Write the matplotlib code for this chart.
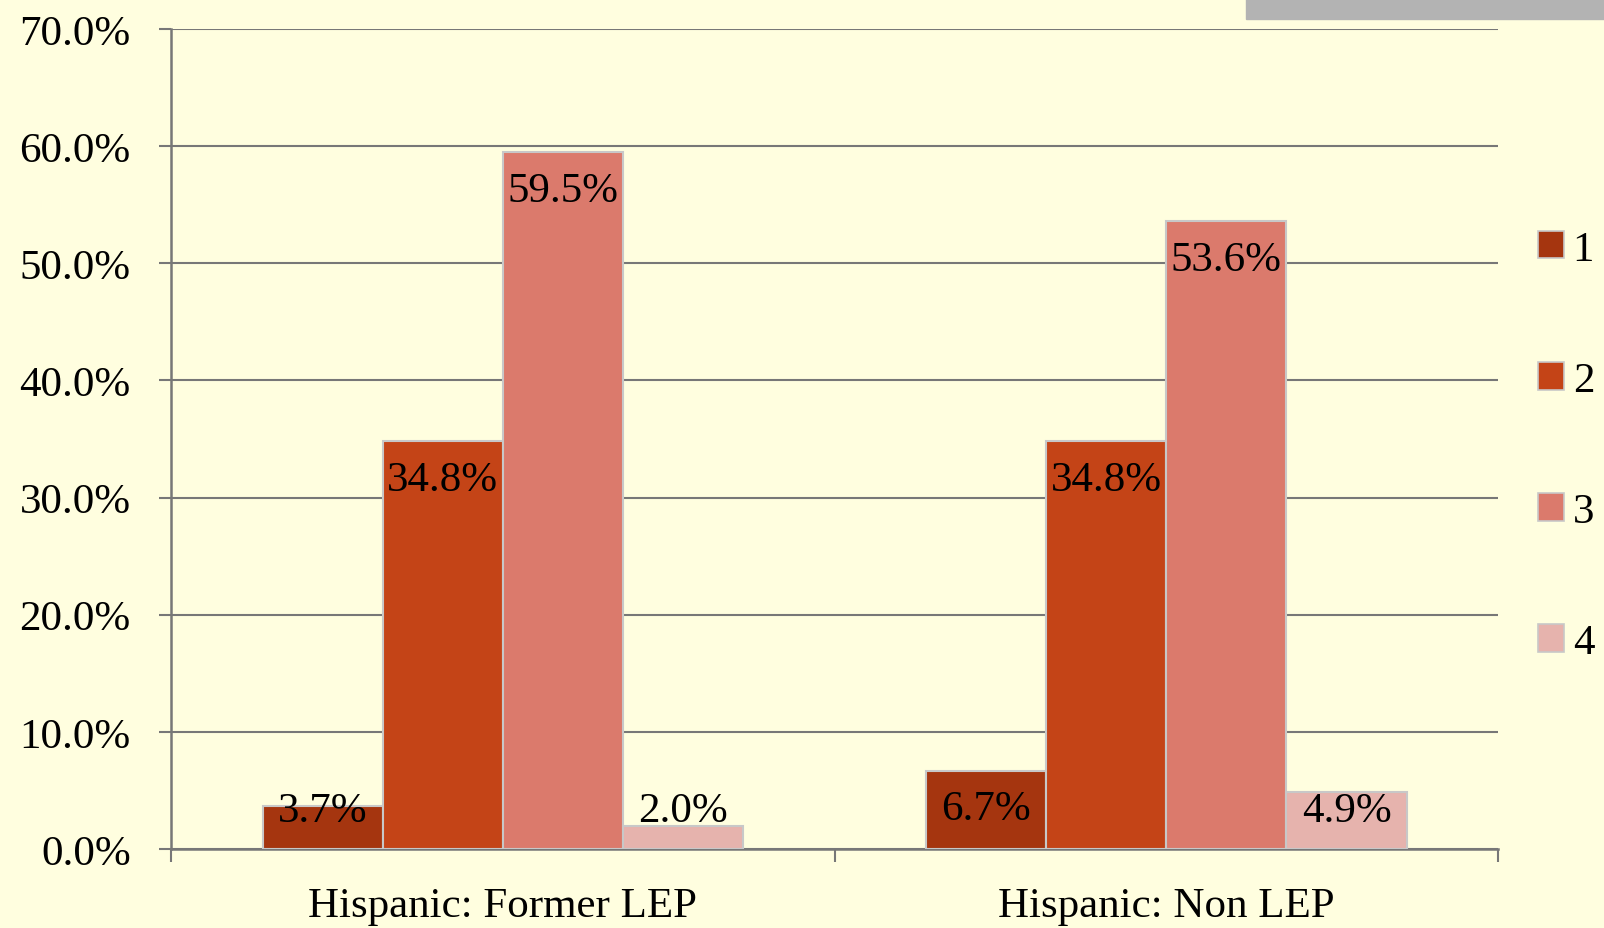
import numpy as np
from matplotlib import pyplot as plt
from matplotlib.patches import Patch

categories = ['Hispanic: Former LEP', 'Hispanic: Non LEP']
series = ['1', '2', '3', '4']
values = [[3.7, 6.7],
          [34.8, 34.8],
          [59.5, 53.6],
          [2.0, 4.9]]
colors = ['#A5350F', '#C44417', '#DB7A6C', '#E6B3AD']
yticks = [0, 10, 20, 30, 40, 50, 60, 70]

bg = '#FFFEDF'
grid = '#777777'
fs = 31
plt.rcParams['font.family'] = ['Liberation Serif', 'DejaVu Serif']

fig = plt.figure(figsize=(16.04, 9.29), dpi=100, facecolor=bg)
ax = fig.add_axes([0.1066, 0.085, 0.8274, 0.8827], facecolor=bg)

x = np.arange(len(categories))
w = 0.181
for i, (s, vals) in enumerate(zip(series, values)):
    xs = x + (i - 1.5) * w
    ax.bar(xs, vals, w, color=colors[i], edgecolor='#C8C8C8', linewidth=1.5,
           label=s, zorder=3)
    for xi, v in zip(xs, vals):
        ax.text(xi, max(v - 3.3, 3.3), '%.1f%%' % v, ha='center', va='center',
                fontsize=fs, color='black', zorder=4)

ax.set_ylim(0, 70)
ax.set_xlim(-0.5, 1.5)
ax.set_yticks(yticks)
ax.set_yticklabels(['%.1f%%' % t for t in yticks], fontsize=fs)
ax.set_xticks(x)
ax.set_xticklabels(categories, fontsize=fs)
ax.set_xticks([-0.5, 0.5, 1.5], minor=True)
ax.tick_params(axis='x', which='major', length=0, pad=27)
ax.tick_params(axis='x', which='minor', length=9, width=1.5, color=grid, direction='out')
ax.tick_params(axis='y', length=9, width=1.5, color=grid, pad=20)
ax.grid(axis='y', color=grid, linewidth=1.5, zorder=1)
for sp in ['top', 'right']:
    ax.spines[sp].set_visible(False)
for sp in ['left', 'bottom']:
    ax.spines[sp].set_color(grid)
    ax.spines[sp].set_linewidth(1.8)

handles = [Patch(facecolor=c, edgecolor='#C8C8C8', linewidth=1.2) for c in colors]
fig.legend(handles, series, loc='center left', bbox_to_anchor=(0.959, 0.5185),
           frameon=False, fontsize=fs, labelspacing=2.15, handlelength=0.6,
           handleheight=0.6, handletextpad=0.2, borderpad=0, borderaxespad=0)

# grey strip at the top right
fig.patches.append(plt.Rectangle((1246 / 1604, 1 - 20 / 929), 1, 1,
                                 transform=fig.transFigure, color='#B3B3B3'))

fig.savefig('out.png', dpi=100, facecolor=bg)
